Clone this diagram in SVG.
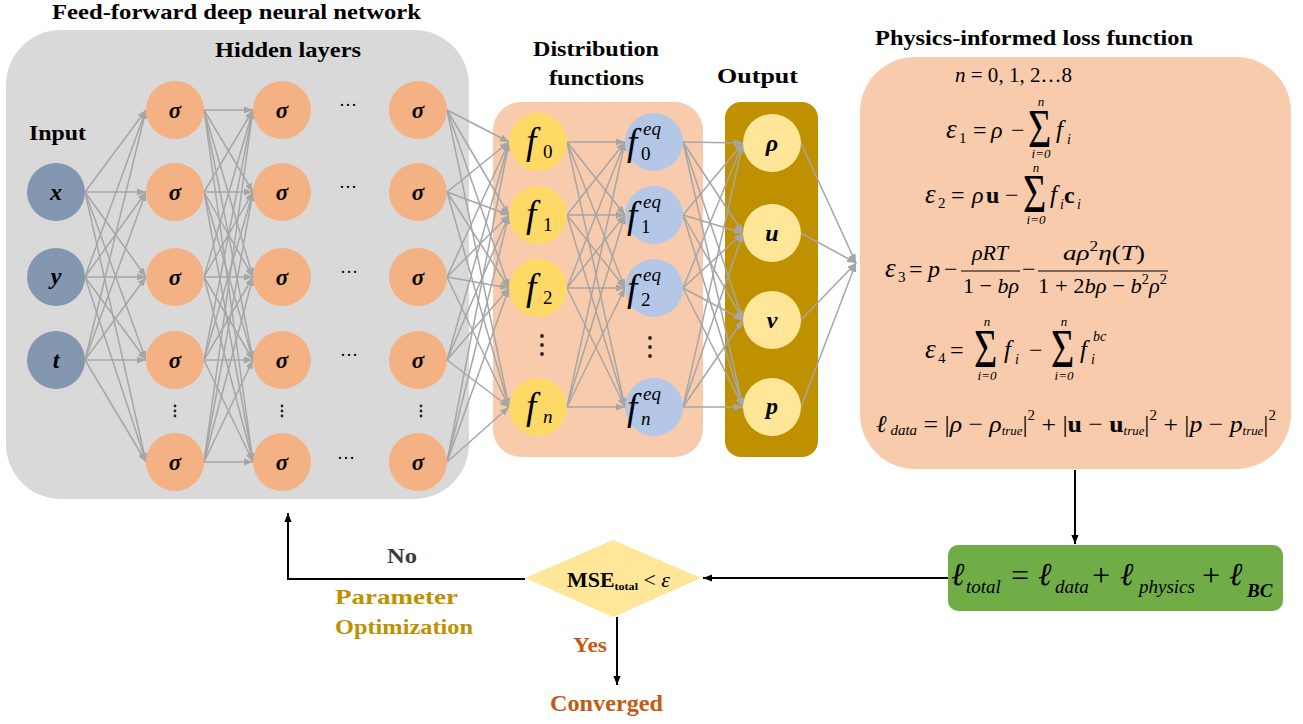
<svg xmlns="http://www.w3.org/2000/svg" width="1303" height="724" viewBox="0 0 1303 724">
<defs>
  <style>
    .t { font-family: "Liberation Serif", "Times New Roman", serif; fill: #000; }
    .b { font-weight: bold; }
    .i { font-style: italic; }
    .bi { font-weight: bold; font-style: italic; }
    .ttl { font-family: "Liberation Serif", "Times New Roman", serif; font-weight: bold; font-size: 21px; fill: #000; }
    .w { stroke: #A6A6A6; stroke-width: 1.5; fill: none; marker-end: url(#ag); }
    .k { stroke: #000; stroke-width: 2; fill: none; marker-end: url(#ak); }
    .in { fill: #8497B0; }
    .hid { fill: #F4B183; }
    .fn { fill: #FFD966; }
    .feq { fill: #B4C7E7; }
    .out { fill: #FFE699; }
    .dot { fill: #262626; }
  </style>
  <marker id="ag" viewBox="0 0 10 8" refX="10" refY="4" markerWidth="9" markerHeight="7.2" markerUnits="userSpaceOnUse" orient="auto">
    <path d="M0,0 L10,4 L0,8 z" fill="#A6A6A6"/>
  </marker>
  <marker id="ak" viewBox="0 0 10 8" refX="10" refY="4" markerWidth="9" markerHeight="7.2" markerUnits="userSpaceOnUse" orient="auto">
    <path d="M0,0 L10,4 L0,8 z" fill="#000"/>
  </marker>
</defs>
<rect width="1303" height="724" fill="#fff"/>

<!-- panels -->
<g id="panels">
  <rect id="dnn-panel" x="6" y="30" width="463" height="469" rx="55" fill="#D9D9D9"/>
  <rect id="dist-panel" x="493" y="102" width="210" height="355" rx="28" fill="#F8CBAD"/>
  <rect id="out-panel" x="725" y="102" width="93" height="355" rx="16" fill="#BF9000"/>
  <rect id="loss-panel" x="860" y="57" width="431" height="412" rx="55" fill="#F8CBAD"/>
</g>

<!-- titles (glyphs widened to the drawing's aspect) -->
<g id="titles">
  <text class="ttl" x="52" y="19" textLength="369" lengthAdjust="spacingAndGlyphs">Feed-forward deep neural network</text>
  <text class="ttl" x="215" y="57" textLength="146" lengthAdjust="spacingAndGlyphs">Hidden layers</text>
  <text class="ttl" x="29" y="140" font-size="22" textLength="57" lengthAdjust="spacingAndGlyphs">Input</text>
  <text class="ttl" x="533" y="56" textLength="126" lengthAdjust="spacingAndGlyphs">Distribution</text>
  <text class="ttl" x="549" y="85" textLength="95" lengthAdjust="spacingAndGlyphs">functions</text>
  <text class="ttl" x="717" y="83" textLength="81" lengthAdjust="spacingAndGlyphs">Output</text>
  <text class="ttl" x="875" y="45" textLength="318" lengthAdjust="spacingAndGlyphs">Physics-informed loss function</text>
</g>

<!-- connectors -->
<g id="connectors">
  <!-- input -> hidden 1 -->
  <line class="w" x1="85" y1="192" x2="146" y2="110"/>
  <line class="w" x1="85" y1="192" x2="146" y2="192"/>
  <line class="w" x1="85" y1="192" x2="146" y2="277"/>
  <line class="w" x1="85" y1="192" x2="146" y2="360"/>
  <line class="w" x1="85" y1="192" x2="146" y2="462"/>
  <line class="w" x1="85" y1="277" x2="146" y2="110"/>
  <line class="w" x1="85" y1="277" x2="146" y2="192"/>
  <line class="w" x1="85" y1="277" x2="146" y2="277"/>
  <line class="w" x1="85" y1="277" x2="146" y2="360"/>
  <line class="w" x1="85" y1="277" x2="146" y2="462"/>
  <line class="w" x1="85" y1="360" x2="146" y2="110"/>
  <line class="w" x1="85" y1="360" x2="146" y2="192"/>
  <line class="w" x1="85" y1="360" x2="146" y2="277"/>
  <line class="w" x1="85" y1="360" x2="146" y2="360"/>
  <line class="w" x1="85" y1="360" x2="146" y2="462"/>
  <!-- hidden 1 -> hidden 2 -->
  <line class="w" x1="204" y1="110" x2="253" y2="110"/>
  <line class="w" x1="204" y1="110" x2="253" y2="192"/>
  <line class="w" x1="204" y1="110" x2="253" y2="277"/>
  <line class="w" x1="204" y1="110" x2="253" y2="360"/>
  <line class="w" x1="204" y1="110" x2="253" y2="462"/>
  <line class="w" x1="204" y1="192" x2="253" y2="110"/>
  <line class="w" x1="204" y1="192" x2="253" y2="192"/>
  <line class="w" x1="204" y1="192" x2="253" y2="277"/>
  <line class="w" x1="204" y1="192" x2="253" y2="360"/>
  <line class="w" x1="204" y1="192" x2="253" y2="462"/>
  <line class="w" x1="204" y1="277" x2="253" y2="110"/>
  <line class="w" x1="204" y1="277" x2="253" y2="192"/>
  <line class="w" x1="204" y1="277" x2="253" y2="277"/>
  <line class="w" x1="204" y1="277" x2="253" y2="360"/>
  <line class="w" x1="204" y1="277" x2="253" y2="462"/>
  <line class="w" x1="204" y1="360" x2="253" y2="110"/>
  <line class="w" x1="204" y1="360" x2="253" y2="192"/>
  <line class="w" x1="204" y1="360" x2="253" y2="277"/>
  <line class="w" x1="204" y1="360" x2="253" y2="360"/>
  <line class="w" x1="204" y1="360" x2="253" y2="462"/>
  <line class="w" x1="204" y1="462" x2="253" y2="110"/>
  <line class="w" x1="204" y1="462" x2="253" y2="192"/>
  <line class="w" x1="204" y1="462" x2="253" y2="277"/>
  <line class="w" x1="204" y1="462" x2="253" y2="360"/>
  <line class="w" x1="204" y1="462" x2="253" y2="462"/>
  <!-- hidden N -> distribution functions -->
  <line class="w" x1="447" y1="110" x2="509" y2="142"/>
  <line class="w" x1="447" y1="110" x2="509" y2="215"/>
  <line class="w" x1="447" y1="110" x2="509" y2="288"/>
  <line class="w" x1="447" y1="110" x2="509" y2="407"/>
  <line class="w" x1="447" y1="192" x2="509" y2="142"/>
  <line class="w" x1="447" y1="192" x2="509" y2="215"/>
  <line class="w" x1="447" y1="192" x2="509" y2="288"/>
  <line class="w" x1="447" y1="192" x2="509" y2="407"/>
  <line class="w" x1="447" y1="277" x2="509" y2="142"/>
  <line class="w" x1="447" y1="277" x2="509" y2="215"/>
  <line class="w" x1="447" y1="277" x2="509" y2="288"/>
  <line class="w" x1="447" y1="277" x2="509" y2="407"/>
  <line class="w" x1="447" y1="360" x2="509" y2="142"/>
  <line class="w" x1="447" y1="360" x2="509" y2="215"/>
  <line class="w" x1="447" y1="360" x2="509" y2="288"/>
  <line class="w" x1="447" y1="360" x2="509" y2="407"/>
  <line class="w" x1="447" y1="462" x2="509" y2="142"/>
  <line class="w" x1="447" y1="462" x2="509" y2="215"/>
  <line class="w" x1="447" y1="462" x2="509" y2="288"/>
  <line class="w" x1="447" y1="462" x2="509" y2="407"/>
  <!-- f -> f eq -->
  <line class="w" x1="567" y1="142" x2="625" y2="142"/>
  <line class="w" x1="567" y1="142" x2="625" y2="215"/>
  <line class="w" x1="567" y1="142" x2="625" y2="288"/>
  <line class="w" x1="567" y1="142" x2="625" y2="407"/>
  <line class="w" x1="567" y1="215" x2="625" y2="142"/>
  <line class="w" x1="567" y1="215" x2="625" y2="215"/>
  <line class="w" x1="567" y1="215" x2="625" y2="288"/>
  <line class="w" x1="567" y1="215" x2="625" y2="407"/>
  <line class="w" x1="567" y1="288" x2="625" y2="142"/>
  <line class="w" x1="567" y1="288" x2="625" y2="215"/>
  <line class="w" x1="567" y1="288" x2="625" y2="288"/>
  <line class="w" x1="567" y1="288" x2="625" y2="407"/>
  <line class="w" x1="567" y1="407" x2="625" y2="142"/>
  <line class="w" x1="567" y1="407" x2="625" y2="215"/>
  <line class="w" x1="567" y1="407" x2="625" y2="288"/>
  <line class="w" x1="567" y1="407" x2="625" y2="407"/>
  <!-- f eq -> output -->
  <line class="w" x1="683" y1="142" x2="743" y2="143"/>
  <line class="w" x1="683" y1="142" x2="743" y2="233"/>
  <line class="w" x1="683" y1="142" x2="743" y2="320"/>
  <line class="w" x1="683" y1="142" x2="743" y2="407"/>
  <line class="w" x1="683" y1="215" x2="743" y2="143"/>
  <line class="w" x1="683" y1="215" x2="743" y2="233"/>
  <line class="w" x1="683" y1="215" x2="743" y2="320"/>
  <line class="w" x1="683" y1="215" x2="743" y2="407"/>
  <line class="w" x1="683" y1="288" x2="743" y2="143"/>
  <line class="w" x1="683" y1="288" x2="743" y2="233"/>
  <line class="w" x1="683" y1="288" x2="743" y2="320"/>
  <line class="w" x1="683" y1="288" x2="743" y2="407"/>
  <line class="w" x1="683" y1="407" x2="743" y2="143"/>
  <line class="w" x1="683" y1="407" x2="743" y2="233"/>
  <line class="w" x1="683" y1="407" x2="743" y2="320"/>
  <line class="w" x1="683" y1="407" x2="743" y2="407"/>
  <!-- output -> loss -->
  <line class="w" x1="801" y1="143" x2="856" y2="263"/>
  <line class="w" x1="801" y1="233" x2="856" y2="263"/>
  <line class="w" x1="801" y1="320" x2="856" y2="263"/>
  <line class="w" x1="801" y1="407" x2="856" y2="263"/>
  <!-- training loop -->
  <line class="k" x1="1075" y1="470" x2="1075" y2="544"/>
  <line class="k" x1="948" y1="578" x2="703" y2="578"/>
  <polyline class="k" points="525,579 288,579 288,513"/>
  <line class="k" x1="617" y1="617" x2="617" y2="685"/>
</g>

<!-- input layer -->
<g id="input-x"><circle class="in" cx="56" cy="192" r="29"/><text class="t bi" x="56" y="200" font-size="24" text-anchor="middle">x</text></g>
<g id="input-y"><circle class="in" cx="56" cy="277" r="29"/><text class="t bi" x="56" y="284" font-size="24" text-anchor="middle">y</text></g>
<g id="input-t"><circle class="in" cx="56" cy="360" r="29"/><text class="t bi" x="56" y="368" font-size="24" text-anchor="middle">t</text></g>

<!-- hidden layer 1 -->
<g id="h1-1"><circle class="hid" cx="175" cy="110" r="29"/><text class="t bi" x="175" y="118" font-size="23" text-anchor="middle">σ</text></g>
<g id="h1-2"><circle class="hid" cx="175" cy="192" r="29"/><text class="t bi" x="175" y="200" font-size="23" text-anchor="middle">σ</text></g>
<g id="h1-3"><circle class="hid" cx="175" cy="277" r="29"/><text class="t bi" x="175" y="285" font-size="23" text-anchor="middle">σ</text></g>
<g id="h1-4"><circle class="hid" cx="175" cy="360" r="29"/><text class="t bi" x="175" y="368" font-size="23" text-anchor="middle">σ</text></g>
<g id="h1-5"><circle class="hid" cx="175" cy="462" r="29"/><text class="t bi" x="175" y="470" font-size="23" text-anchor="middle">σ</text></g>

<!-- hidden layer 2 -->
<g id="h2-1"><circle class="hid" cx="282" cy="110" r="29"/><text class="t bi" x="282" y="118" font-size="23" text-anchor="middle">σ</text></g>
<g id="h2-2"><circle class="hid" cx="282" cy="192" r="29"/><text class="t bi" x="282" y="200" font-size="23" text-anchor="middle">σ</text></g>
<g id="h2-3"><circle class="hid" cx="282" cy="277" r="29"/><text class="t bi" x="282" y="285" font-size="23" text-anchor="middle">σ</text></g>
<g id="h2-4"><circle class="hid" cx="282" cy="360" r="29"/><text class="t bi" x="282" y="368" font-size="23" text-anchor="middle">σ</text></g>
<g id="h2-5"><circle class="hid" cx="282" cy="462" r="29"/><text class="t bi" x="282" y="470" font-size="23" text-anchor="middle">σ</text></g>

<!-- hidden layer N -->
<g id="h3-1"><circle class="hid" cx="418" cy="110" r="29"/><text class="t bi" x="418" y="118" font-size="23" text-anchor="middle">σ</text></g>
<g id="h3-2"><circle class="hid" cx="418" cy="192" r="29"/><text class="t bi" x="418" y="200" font-size="23" text-anchor="middle">σ</text></g>
<g id="h3-3"><circle class="hid" cx="418" cy="277" r="29"/><text class="t bi" x="418" y="285" font-size="23" text-anchor="middle">σ</text></g>
<g id="h3-4"><circle class="hid" cx="418" cy="360" r="29"/><text class="t bi" x="418" y="368" font-size="23" text-anchor="middle">σ</text></g>
<g id="h3-5"><circle class="hid" cx="418" cy="462" r="29"/><text class="t bi" x="418" y="470" font-size="23" text-anchor="middle">σ</text></g>

<!-- ellipses between layers -->
<g id="ellipses">
  <text class="t" x="348" y="106" font-size="18" text-anchor="middle">…</text>
  <text class="t" x="348" y="188" font-size="18" text-anchor="middle">…</text>
  <text class="t" x="349" y="273" font-size="18" text-anchor="middle">…</text>
  <text class="t" x="349" y="356" font-size="18" text-anchor="middle">…</text>
  <text class="t" x="346" y="459" font-size="18" text-anchor="middle">…</text>
  <circle class="dot" cx="175" cy="406" r="1.4"/><circle class="dot" cx="175" cy="411" r="1.4"/><circle class="dot" cx="175" cy="416" r="1.4"/>
  <circle class="dot" cx="282" cy="406" r="1.4"/><circle class="dot" cx="282" cy="411" r="1.4"/><circle class="dot" cx="282" cy="416" r="1.4"/>
  <circle class="dot" cx="421" cy="406" r="1.4"/><circle class="dot" cx="421" cy="411" r="1.4"/><circle class="dot" cx="421" cy="416" r="1.4"/>
  <circle class="dot" cx="542" cy="336" r="1.9"/><circle class="dot" cx="542" cy="345" r="1.9"/><circle class="dot" cx="542" cy="354" r="1.9"/>
  <circle class="dot" cx="650" cy="338" r="1.9"/><circle class="dot" cx="650" cy="347" r="1.9"/><circle class="dot" cx="650" cy="356" r="1.9"/>
</g>

<!-- distribution functions -->
<g id="f0"><circle class="fn" cx="538" cy="142" r="29"/><text class="t i" x="526" y="154" font-size="37">f</text><text class="t" x="543" y="158" font-size="19">0</text></g>
<g id="f1"><circle class="fn" cx="538" cy="215" r="29"/><text class="t i" x="526" y="227" font-size="37">f</text><text class="t" x="543" y="231" font-size="19">1</text></g>
<g id="f2"><circle class="fn" cx="538" cy="288" r="29"/><text class="t i" x="526" y="300" font-size="37">f</text><text class="t" x="543" y="304" font-size="19">2</text></g>
<g id="fn"><circle class="fn" cx="538" cy="407" r="29"/><text class="t i" x="526" y="419" font-size="37">f</text><text class="t i" x="543" y="423" font-size="19">n</text></g>

<g id="feq0"><circle class="feq" cx="654" cy="142" r="29"/><text class="t i" x="627" y="155" font-size="37">f</text><text class="t i" x="643" y="135" font-size="19">eq</text><text class="t" x="641" y="160" font-size="19">0</text></g>
<g id="feq1"><circle class="feq" cx="654" cy="215" r="29"/><text class="t i" x="627" y="228" font-size="37">f</text><text class="t i" x="643" y="208" font-size="19">eq</text><text class="t" x="641" y="233" font-size="19">1</text></g>
<g id="feq2"><circle class="feq" cx="654" cy="288" r="29"/><text class="t i" x="627" y="301" font-size="37">f</text><text class="t i" x="643" y="281" font-size="19">eq</text><text class="t" x="641" y="306" font-size="19">2</text></g>
<g id="feqn"><circle class="feq" cx="654" cy="407" r="29"/><text class="t i" x="627" y="420" font-size="37">f</text><text class="t i" x="643" y="400" font-size="19">eq</text><text class="t i" x="641" y="425" font-size="19">n</text></g>

<!-- output layer -->
<g id="out-rho"><circle class="out" cx="772" cy="143" r="29"/><text class="t bi" x="772" y="151" font-size="24" text-anchor="middle">ρ</text></g>
<g id="out-u"><circle class="out" cx="772" cy="233" r="29"/><text class="t bi" x="772" y="241" font-size="24" text-anchor="middle">u</text></g>
<g id="out-v"><circle class="out" cx="772" cy="320" r="29"/><text class="t bi" x="772" y="328" font-size="24" text-anchor="middle">v</text></g>
<g id="out-p"><circle class="out" cx="772" cy="407" r="29"/><text class="t bi" x="772" y="414" font-size="24" text-anchor="middle">p</text></g>

<!-- physics-informed loss equations -->
<g id="loss-equations" class="t">
  <text x="955" y="82" font-size="20" textLength="117" lengthAdjust="spacingAndGlyphs"><tspan class="i">n</tspan> = 0, 1, 2…8</text>

  <!-- eps1 -->
  <text class="i" x="946" y="138" font-size="27">ε</text>
  <text x="959" y="143" font-size="15">1</text>
  <text x="973" y="138" font-size="24">=</text>
  <text class="i" x="991" y="138" font-size="24">ρ</text>
  <text x="1011" y="138" font-size="24">−</text>
  <text transform="translate(1028,147) scale(1,1.35)" font-size="40">Σ</text>
  <text class="i" x="1041" y="106" font-size="13" text-anchor="middle">n</text>
  <text class="i" x="1041" y="158" font-size="13" text-anchor="middle">i=0</text>
  <text class="i" x="1056" y="138" font-size="25">f</text>
  <text class="i" x="1067" y="144" font-size="14">i</text>

  <!-- eps2 -->
  <text class="i" x="925" y="203" font-size="27">ε</text>
  <text x="938" y="208" font-size="15">2</text>
  <text x="951" y="203" font-size="24">=</text>
  <text class="i" x="972" y="203" font-size="24">ρ</text>
  <text class="b" x="986" y="203" font-size="24">u</text>
  <text x="1005" y="203" font-size="24">−</text>
  <text transform="translate(1023,212) scale(1,1.35)" font-size="40">Σ</text>
  <text class="i" x="1036" y="172" font-size="13" text-anchor="middle">n</text>
  <text class="i" x="1036" y="224" font-size="13" text-anchor="middle">i=0</text>
  <text class="i" x="1050" y="203" font-size="25">f</text>
  <text class="i" x="1060" y="209" font-size="14">i</text>
  <text class="b" x="1064" y="203" font-size="24">c</text>
  <text class="i" x="1077" y="209" font-size="14">i</text>

  <!-- eps3 -->
  <text class="i" x="885" y="277" font-size="27">ε</text>
  <text x="898" y="282" font-size="15">3</text>
  <text x="909" y="277" font-size="24">=</text>
  <text class="i" x="928" y="277" font-size="24">p</text>
  <text x="944" y="277" font-size="24">−</text>
  <text x="990" y="260" font-size="22" text-anchor="middle"><tspan class="i">ρRT</tspan></text>
  <line x1="961" y1="271" x2="1020" y2="271" stroke="#000" stroke-width="1.2"/>
  <text x="991" y="293" font-size="22" text-anchor="middle">1 − <tspan class="i">bρ</tspan></text>
  <text x="1022" y="277" font-size="24">−</text>
  <text x="1063" y="260" font-size="22" textLength="82" lengthAdjust="spacingAndGlyphs"><tspan class="i">aρ</tspan><tspan font-size="14" dy="-9">2</tspan><tspan class="i" dy="9">η</tspan>(<tspan class="i">T</tspan>)</text>
  <line x1="1038" y1="271" x2="1168" y2="271" stroke="#000" stroke-width="1.2"/>
  <text x="1038" y="293" font-size="22" textLength="129" lengthAdjust="spacingAndGlyphs">1 + 2<tspan class="i">bρ</tspan> − <tspan class="i">b</tspan><tspan font-size="14" dy="-9">2</tspan><tspan class="i" dy="9">ρ</tspan><tspan font-size="14" dy="-9">2</tspan></text>

  <!-- eps4 -->
  <text class="i" x="925" y="358" font-size="27">ε</text>
  <text x="938" y="363" font-size="15">4</text>
  <text x="950" y="358" font-size="24">=</text>
  <text transform="translate(974,367) scale(1,1.35)" font-size="40">Σ</text>
  <text class="i" x="987" y="326" font-size="13" text-anchor="middle">n</text>
  <text class="i" x="987" y="380" font-size="13" text-anchor="middle">i=0</text>
  <text class="i" x="1004" y="358" font-size="25">f</text>
  <text class="i" x="1015" y="364" font-size="14">i</text>
  <text x="1029" y="358" font-size="24">−</text>
  <text transform="translate(1051,367) scale(1,1.35)" font-size="40">Σ</text>
  <text class="i" x="1064" y="326" font-size="13" text-anchor="middle">n</text>
  <text class="i" x="1064" y="380" font-size="13" text-anchor="middle">i=0</text>
  <text class="i" x="1080" y="358" font-size="25">f</text>
  <text class="i" x="1091" y="364" font-size="14">i</text>
  <text class="i" x="1093" y="341" font-size="14">bc</text>

  <!-- data loss -->
  <text x="876" y="432" font-size="24" textLength="400" lengthAdjust="spacingAndGlyphs"><tspan class="i">ℓ</tspan><tspan class="i" font-size="14" dy="3"> data</tspan><tspan dy="-3"> = |</tspan><tspan class="i">ρ</tspan> − <tspan class="i">ρ</tspan><tspan class="i" font-size="12" dy="3">true</tspan><tspan dy="-3">|</tspan><tspan font-size="14" dy="-12">2</tspan><tspan dy="12"> + |</tspan><tspan class="b">u</tspan> − <tspan class="b">u</tspan><tspan class="i" font-size="12" dy="3">true</tspan><tspan dy="-3">|</tspan><tspan font-size="14" dy="-12">2</tspan><tspan dy="12"> + |</tspan><tspan class="i">p</tspan> − <tspan class="i">p</tspan><tspan class="i" font-size="12" dy="3">true</tspan><tspan dy="-3">|</tspan><tspan font-size="14" dy="-12">2</tspan></text>
</g>

<!-- total loss -->
<g id="total-loss">
  <rect x="948" y="545" width="335" height="66" rx="10" fill="#70AD47"/>
  <text class="t i" x="951" y="585" font-size="32">ℓ</text>
  <text class="t i" x="966" y="593" font-size="19">total</text>
  <text class="t" x="1011" y="586" font-size="32">=</text>
  <text class="t i" x="1038" y="585" font-size="32">ℓ</text>
  <text class="t i" x="1055" y="593" font-size="19">data</text>
  <text class="t" x="1092" y="586" font-size="32">+</text>
  <text class="t i" x="1120" y="585" font-size="32">ℓ</text>
  <text class="t i" x="1139" y="593" font-size="19">physics</text>
  <text class="t" x="1202" y="586" font-size="32">+</text>
  <text class="t i" x="1229" y="585" font-size="32">ℓ</text>
  <text class="t bi" x="1247" y="597" font-size="19">BC</text>
</g>

<!-- convergence check -->
<g id="check">
  <polygon points="525,578 613,540 701,578 613,617" fill="#FFE699"/>
  <text class="t" x="567" y="587" font-size="20" textLength="103" lengthAdjust="spacingAndGlyphs"><tspan class="b">MSE</tspan><tspan class="b" font-size="11" dy="3">total</tspan><tspan dy="-3"> &lt; </tspan><tspan class="i">ε</tspan></text>
</g>

<!-- loop labels -->
<g id="labels">
  <text class="t b" x="387" y="563" font-size="22" textLength="30" lengthAdjust="spacingAndGlyphs" style="fill:#3A3A3A">No</text>
  <text class="t b" x="335" y="604" font-size="22" textLength="123" lengthAdjust="spacingAndGlyphs" style="fill:#BF9000">Parameter</text>
  <text class="t b" x="335" y="634" font-size="22" textLength="138" lengthAdjust="spacingAndGlyphs" style="fill:#BF9000">Optimization</text>
  <text class="t b" x="573" y="652" font-size="22" textLength="34" lengthAdjust="spacingAndGlyphs" style="fill:#C55A11">Yes</text>
  <text class="t b" x="550" y="711" font-size="24" textLength="113" lengthAdjust="spacingAndGlyphs" style="fill:#C55A11">Converged</text>
</g>
</svg>
